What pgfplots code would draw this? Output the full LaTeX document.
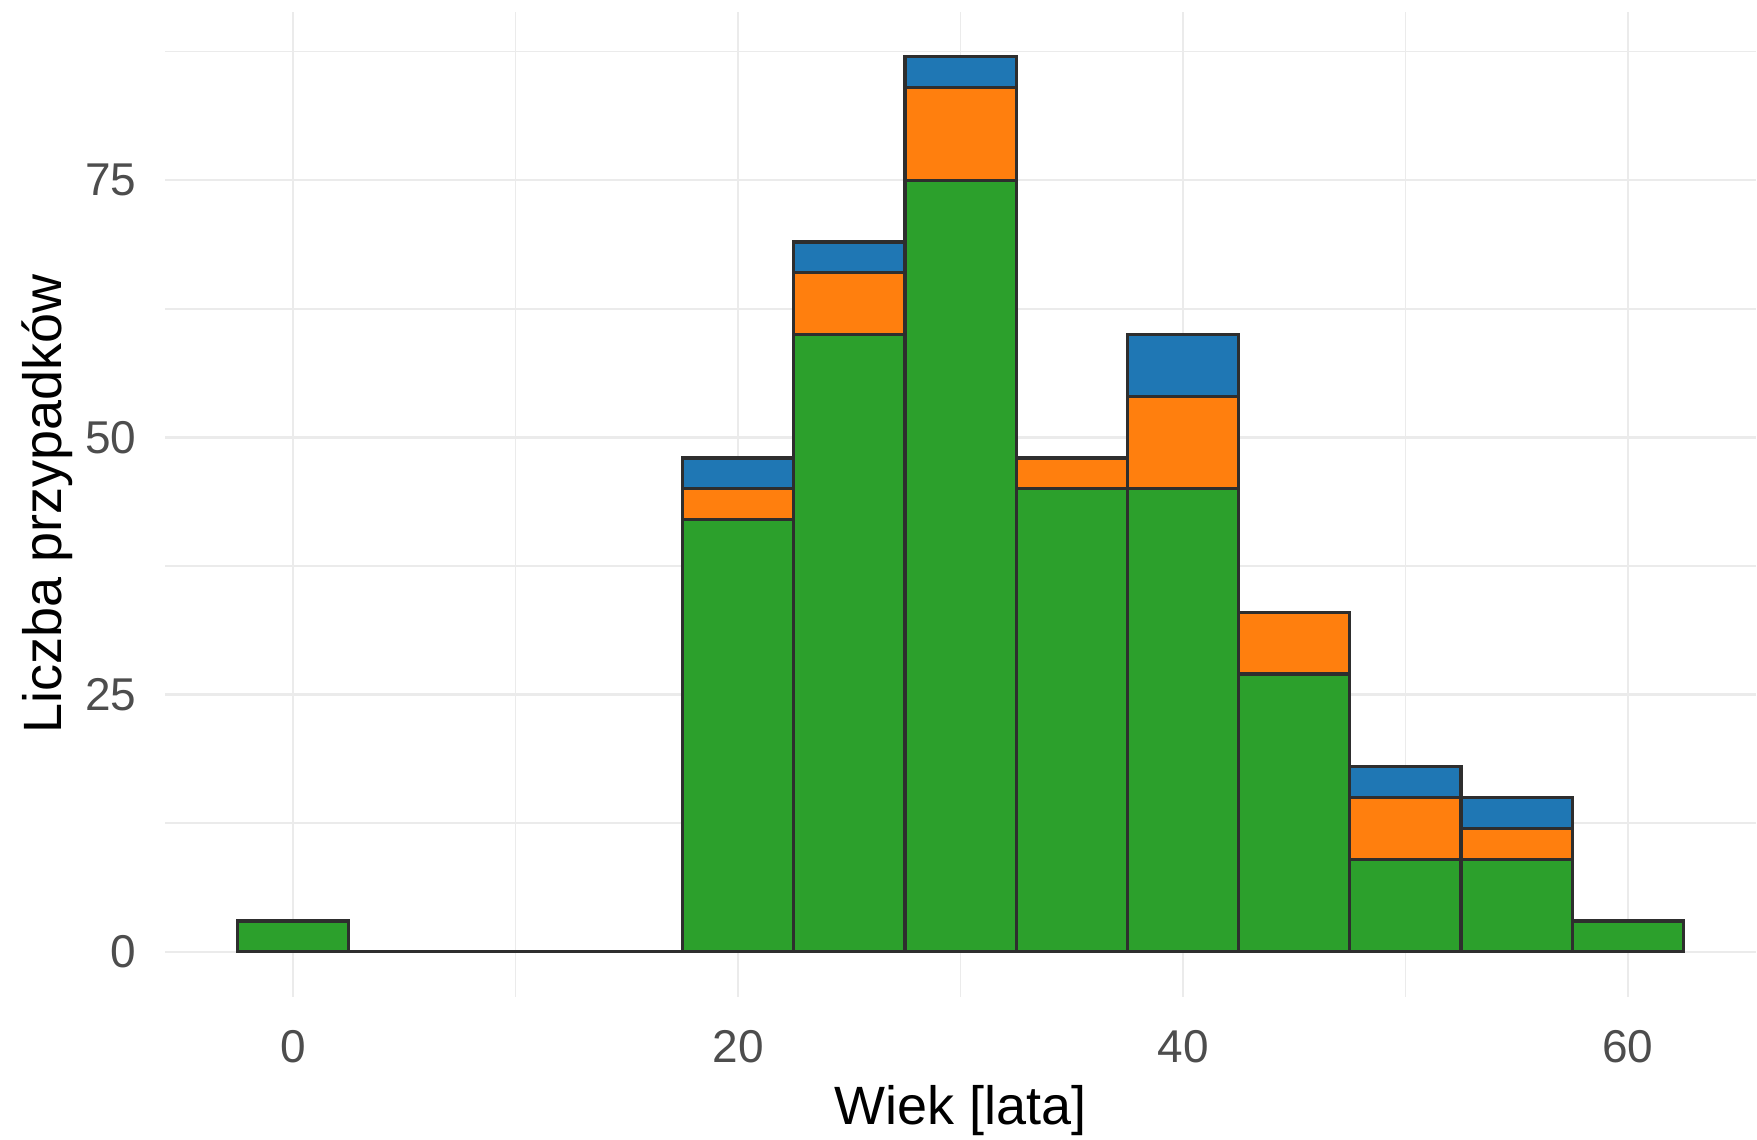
\documentclass[border=0pt]{standalone}
\usepackage{pgfplots}
\pgfplotsset{compat=1.18}
\usepackage{fontspec}
\setmainfont{Liberation Sans}
\definecolor{cgreen}{HTML}{2CA02C}
\definecolor{corange}{HTML}{FF7F0E}
\definecolor{cblue}{HTML}{1F77B4}
\definecolor{outl}{HTML}{2E2E2E}
\definecolor{gridc}{HTML}{EBEBEB}
\definecolor{tickc}{HTML}{4D4D4D}
\begin{document}
\begin{tikzpicture}
\begin{axis}[
 scale only axis, width=795.8bp, height=492.55bp,
 xmin=-5.75, xmax=65.75, ymin=-4.35, ymax=91.35,
 axis line style={draw=none},
 xtick={0,20,40,60}, minor xtick={10,30,50},
 ytick={0,25,50,75}, minor ytick={12.5,37.5,62.5,87.5},
 major tick length=0pt, minor tick length=0pt,
 grid=both,
 major grid style={draw=gridc, line width=1.2bp},
 minor grid style={draw=gridc, line width=0.8bp},
 /pgf/number format/assume math mode=true,
 ticklabel style={font=\fontsize{23bp}{27bp}\selectfont, text=tickc, inner sep=0pt},
 xticklabel style={anchor=north, yshift=-16.5bp},
 yticklabel style={anchor=east, xshift=-14.3bp},
 xlabel={Wiek [lata]}, ylabel={Liczba przypadków},
 label style={font=\fontsize{27bp}{32bp}\selectfont, inner sep=0pt, text=black},
 xlabel style={at={([yshift=-64bp]axis description cs:0.5,0)}, anchor=base},
 ylabel style={at={([xshift=-51.7bp]axis description cs:0,0.5)}, anchor=base},
 ybar stacked, bar width=5, bar shift=0pt,
 clip=false,
]
\addplot[fill=cgreen, draw=outl, line width=1.6bp] coordinates {
 (0,3) (5,0) (10,0) (15,0) (20,42) (25,60) (30,75) (35,45) (40,45) (45,27) (50,9) (55,9) (60,3)};
\addplot[fill=corange, draw=outl, line width=1.6bp] coordinates {
 (0,0) (5,0) (10,0) (15,0) (20,3) (25,6) (30,9) (35,3) (40,9) (45,6) (50,6) (55,3) (60,0)};
\addplot[fill=cblue, draw=outl, line width=1.6bp] coordinates {
 (0,0) (5,0) (10,0) (15,0) (20,3) (25,3) (30,3) (35,0) (40,6) (45,0) (50,3) (55,3) (60,0)};
\end{axis}
\begin{axis}[
 scale only axis, width=795.8bp, height=492.55bp,
 xmin=-5.75, xmax=65.75, ymin=-4.35, ymax=91.35,
 hide axis, clip=false,
]
% empty bins (5, 10, 15): zero-height bars drawn as outline along the baseline
\addplot[draw=outl, line width=1.6bp, line cap=rect] coordinates {(2.5,0) (17.5,0)};
\end{axis}
\path ([xshift=-82.7bp,yshift=-71.4bp]current axis.south west) rectangle ([yshift=6.05bp]current axis.north east);
\end{tikzpicture}
\end{document}
